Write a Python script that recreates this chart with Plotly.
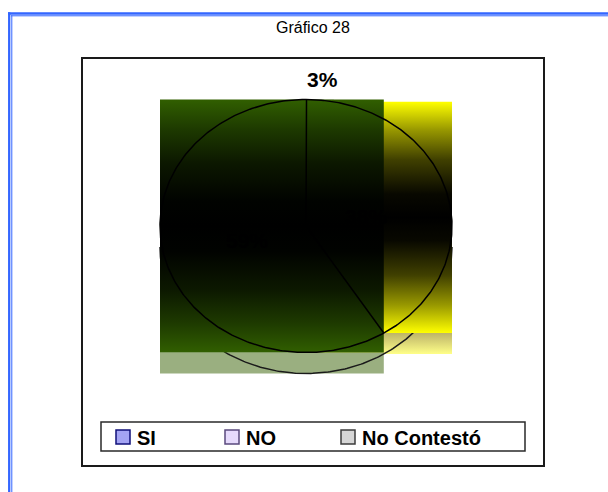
import numpy as np
import plotly.graph_objects as go

# ---- data -----------------------------------------------------------------
categories = ["SI", "NO", "No Contestó"]
values = [38, 59, 3]

# ---- style ----------------------------------------------------------------
slice_rgb = [(255, 255, 0), (49, 95, 0), (192, 192, 192)]  # gradient end colour per slice
band_bottom = ["#ffff88", "#9aaf80", "#e0e0e0"]
band_top = ["#bdb468", "#9aaf80", "#e0e0e0"]
legend_fill = ["#a4a4f4", "#e6dafc", "#d6d6d6"]
legend_edge = ["#10107a", "#5a4a7e", "#3c3c3c"]
label_radius = [0.42, 0.42, 1.16]                          # inside / outside labels
draw_order = [2, 0, 1]
outlined = 1                                               # slice drawn with its radial edges

# brightness profile of the "from centre" gradient (position, share of end colour)
GRAD = [(0.0, 1.0), (0.12, 0.6), (0.25, 0.25), (0.4, 0.03), (0.5, 0.0),
        (0.6, 0.03), (0.75, 0.25), (0.88, 0.6), (1.0, 1.0)]

W, H = 608, 492
CX, CY = 306, 226          # pie centre (px)
RX, RY = 146, 126.5        # radii of the tilted pie (px)
DEPTH = 21 / RY            # thickness of the 3-D side wall, in y units
FIRST_ANGLE = 11.0         # first slice angle, degrees clockwise from 12 o'clock
FRAME = (82, 58, 544, 466) # plot-area frame (px)
FONT = "Arial, Liberation Sans, sans-serif"
EDGE_W = 1.5


def px(x):
    return x / W


def py(y):
    return 1 - y / H


def shade(rgb, f):
    return "rgb(%d,%d,%d)" % tuple(round(c * f) for c in rgb)


# slice angles
total = float(sum(values))
bounds = [FIRST_ANGLE]
for v in values:
    bounds.append(bounds[-1] + 360.0 * v / total)


def arc(a0, a1, n=240):
    t = np.radians(np.linspace(a0, a1, n))
    return np.sin(t), np.cos(t)


def rect_trace(x0, x1, y0, y1, colorscale):
    return go.Scatter(
        x=[x0, x1, x1, x0, x0], y=[y0, y0, y1, y1, y0],
        mode="lines", fill="toself", line=dict(width=0),
        fillgradient=dict(type="vertical", colorscale=colorscale,
                          start=y0, stop=y1),
        hoverinfo="skip")


# extent of every slice's top face
boxes = {}
for i in range(len(values)):
    ax, ay = arc(bounds[i], bounds[i + 1])
    xs = np.concatenate([[0.0], ax])
    ys = np.concatenate([[0.0], ay])
    boxes[i] = (xs.min(), xs.max(), ys.min(), ys.max())

fig = go.Figure()

# side-wall bands under each slice
for i in draw_order:
    x0, x1, y0, y1 = boxes[i]
    fig.add_trace(rect_trace(x0, x1, y0 - DEPTH, y0,
                             [[0, band_bottom[i]], [1, band_top[i]]]))

# bottom edge of the side wall (front half of the pie)
sx, sy = arc(90, 270)
fig.add_trace(go.Scatter(x=sx, y=sy - DEPTH, mode="lines",
                         line=dict(color="#1a1a1a", width=EDGE_W), hoverinfo="skip"))

# gradient fills over the top faces
for i in draw_order:
    x0, x1, y0, y1 = boxes[i]
    cs = [[p, shade(slice_rgb[i], f)] for p, f in GRAD]
    fig.add_trace(rect_trace(x0, x1, y0, y1, cs))

# rim of the top face
rx_, ry_ = arc(0, 360, 480)
fig.add_trace(go.Scatter(x=rx_, y=ry_, mode="lines",
                         line=dict(color="black", width=EDGE_W), hoverinfo="skip"))
# radial edges
ax, ay = arc(bounds[outlined], bounds[outlined + 1])
fig.add_trace(go.Scatter(
    x=[ax[0], 0.0, ax[-1]], y=[ay[0], 0.0, ay[-1]],
    mode="lines", line=dict(color="black", width=EDGE_W), hoverinfo="skip"))

annotations = []
# percentage labels
for i, v in enumerate(values):
    mid = np.radians((bounds[i] + bounds[i + 1]) / 2)
    k = label_radius[i]
    annotations.append(dict(
        x=k * np.sin(mid), y=k * np.cos(mid), xref="x", yref="y",
        xanchor="center", yanchor="middle",
        text=f"{v}%", showarrow=False,
        font=dict(family=FONT, size=21, color="black", weight="bold")))

# title
annotations.append(dict(x=px(312.5), y=py(28), xref="paper", yref="paper",
                        xanchor="center", yanchor="middle",
                        text="Gráfico 28", showarrow=False,
                        font=dict(family=FONT, size=16, color="black")))

shapes = []
# outer double blue border
blue = "#3366ff"
shapes += [
    dict(type="line", xref="paper", yref="paper", x0=px(9.2), x1=px(9.2),
         y0=py(12.3), y1=py(H), line=dict(color=blue, width=2.3)),
    dict(type="line", xref="paper", yref="paper", x0=px(11.8), x1=px(11.8),
         y0=py(15.3), y1=py(H), line=dict(color=blue, width=1)),
    dict(type="line", xref="paper", yref="paper", x0=px(8), x1=px(W),
         y0=py(13.5), y1=py(13.5), line=dict(color=blue, width=2.3)),
    dict(type="line", xref="paper", yref="paper", x0=px(10.8), x1=px(W),
         y0=py(15.8), y1=py(15.8), line=dict(color=blue, width=1)),
]
# plot-area frame
fx0, fy0, fx1, fy1 = FRAME
shapes.append(dict(type="rect", xref="paper", yref="paper",
                   x0=px(fx0), x1=px(fx1), y0=py(fy1), y1=py(fy0),
                   line=dict(color="#1a1a1a", width=2)))

# legend box
shapes.append(dict(type="rect", xref="paper", yref="paper",
                   x0=px(101), x1=px(525), y0=py(451), y1=py(422),
                   line=dict(color="#2a2a2a", width=1.5)))
legend_x = [116, 225, 341]
for i, name in enumerate(categories):
    lx = legend_x[i]
    shapes.append(dict(type="rect", xref="paper", yref="paper",
                       x0=px(lx), x1=px(lx + 14), y0=py(444), y1=py(430),
                       fillcolor=legend_fill[i],
                       line=dict(color=legend_edge[i], width=1.5)))
    annotations.append(dict(x=px(lx + 19), y=py(437.5), xref="paper", yref="paper",
                            xanchor="left", yanchor="middle",
                            text=name, showarrow=False,
                            font=dict(family=FONT, size=20, color="black",
                                      weight="bold")))

fig.update_layout(
    width=W, height=H,
    margin=dict(l=0, r=0, t=0, b=0),
    paper_bgcolor="white", plot_bgcolor="rgba(0,0,0,0)",
    showlegend=False, hovermode=False,
    xaxis=dict(domain=[px(fx0), px(fx1)],
               range=[(fx0 - CX) / RX, (fx1 - CX) / RX],
               visible=False, fixedrange=True),
    yaxis=dict(domain=[py(fy1), py(fy0)],
               range=[(CY - fy1) / RY, (CY - fy0) / RY],
               visible=False, fixedrange=True),
    shapes=shapes, annotations=annotations,
)

fig.write_html("out.html")
